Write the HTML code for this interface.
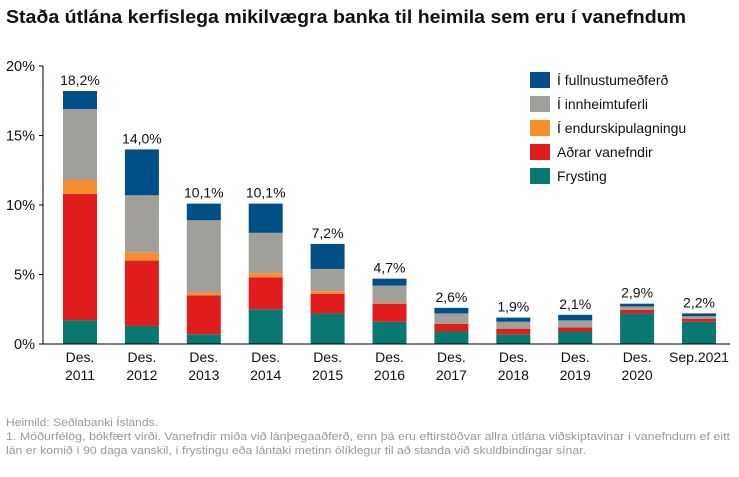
<!DOCTYPE html>
<html><head><meta charset="utf-8"><style>
body{margin:0;background:#fff;width:739px;height:472px;overflow:hidden;font-family:"Liberation Sans",sans-serif}
svg text{font-family:"Liberation Sans",sans-serif}
</style></head><body>
<svg id="c" width="739" height="472">
<text x="6" y="23" font-size="18" font-weight="bold" fill="#111" textLength="680" lengthAdjust="spacingAndGlyphs">Staða útlána kerfislega mikilvægra banka til heimila sem eru í vanefndum</text>
<g id="plot"></g>
<text x="6" y="426" font-size="11" fill="#999" textLength="152" lengthAdjust="spacingAndGlyphs">Heimild: Seðlabanki Íslands.</text>
<text x="6" y="440" font-size="11" fill="#999" textLength="724" lengthAdjust="spacingAndGlyphs">1. Móðurfélög, bókfært virði. Vanefndir miða við lánþegaaðferð, enn þá eru eftirstöðvar allra útlána viðskiptavinar í vanefndum ef eitt</text>
<text x="6" y="454" font-size="11" fill="#999" textLength="580" lengthAdjust="spacingAndGlyphs">lán er komið í 90 daga vanskil, í frystingu eða lántaki metinn ólíklegur til að standa við skuldbindingar sínar.</text>
</svg>
<script>
const categories=[["Des.","2011"],["Des.","2012"],["Des.","2013"],["Des.","2014"],["Des.","2015"],["Des.","2016"],["Des.","2017"],["Des.","2018"],["Des.","2019"],["Des.","2020"],["Sep.2021",""]];
const frysting=[1.7,1.3,0.7,2.5,2.2,1.6,0.9,0.7,0.9,2.2,1.6];
const adrar=[9.1,4.7,2.8,2.3,1.4,1.3,0.55,0.4,0.3,0.25,0.2];
const endursk=[1.0,0.6,0.2,0.3,0.2,0.05,0,0,0,0,0];
const innheimt=[5.1,4.1,5.2,2.9,1.6,1.25,0.75,0.5,0.5,0.25,0.2];
const fulln=[1.3,3.3,1.2,2.1,1.8,0.5,0.4,0.3,0.4,0.2,0.2];
const totals=["18,2%","14,0%","10,1%","10,1%","7,2%","4,7%","2,6%","1,9%","2,1%","2,9%","2,2%"];
const yTicks=[0,5,10,15,20];
const series=[
 {name:"Frysting",vals:frysting,color:"#087870",key:"frysting"},
 {name:"Aðrar vanefndir",vals:adrar,color:"#e01c1c",key:"adrar-vanefndir"},
 {name:"Í endurskipulagningu",vals:endursk,color:"#f68d2e",key:"endurskipulagning"},
 {name:"Í innheimtuferli",vals:innheimt,color:"#a09f9a",key:"innheimtuferli"},
 {name:"Í fullnustumeðferð",vals:fulln,color:"#004f86",key:"fullnustumedferd"}];
const NS="http://www.w3.org/2000/svg";
const g=document.getElementById("plot");
const y0=344,y1=66,x0=43,step=61.9,bw=34;
const yS=v=>y0-(v/20)*(y0-y1);
const xC=i=>80+i*step;
function mk(t,a,txt){const e=document.createElementNS(NS,t);for(const k in a)e.setAttribute(k,a[k]);if(txt!==undefined)e.textContent=txt;g.appendChild(e);return e;}
yTicks.forEach(t=>{
 const l=mk("line",{x1:x0-4,x2:x0,y1:yS(t),y2:yS(t),stroke:"#000"});
 
 
 const tx=mk("text",{x:x0-8,y:yS(t)+5,"text-anchor":"end","font-size":"14.5",fill:"#111"},t+"%");
 
 
});
categories.forEach((c,i)=>{
 let cum=0;
 series.forEach(s=>{
  const v=s.vals[i];if(v<=0)return;
  const r=mk("rect",{x:xC(i)-bw/2,y:yS(cum+v),width:bw,height:yS(cum)-yS(cum+v),fill:s.color});
  
  
  cum+=v;
 });
 const lb=mk("text",{x:xC(i),y:yS(cum)-6,"text-anchor":"middle","font-size":"14",fill:"#111"},totals[i]);
 
 
 const a=mk("text",{x:xC(i),y:362,"text-anchor":"middle","font-size":"14",fill:"#111"},c[0]);
 
 
 if(c[1]){const b=mk("text",{x:xC(i),y:380,"text-anchor":"middle","font-size":"14",fill:"#111"},c[1]);
 
 }
});
const ax=mk("line",{x1:x0,x2:x0,y1:y1,y2:y0,stroke:"#000"});


const bx=mk("line",{x1:x0,x2:730,y1:y0,y2:y0,stroke:"#000"});


series.slice().reverse().forEach((s,k)=>{
 const yy=72+k*24;
 const r=mk("rect",{x:530,y:yy,width:20,height:16,fill:s.color});
 
 
 const t=mk("text",{x:557,y:yy+13,"font-size":"14",fill:"#111"},s.name);
 
 
});
</script>
</body></html>
